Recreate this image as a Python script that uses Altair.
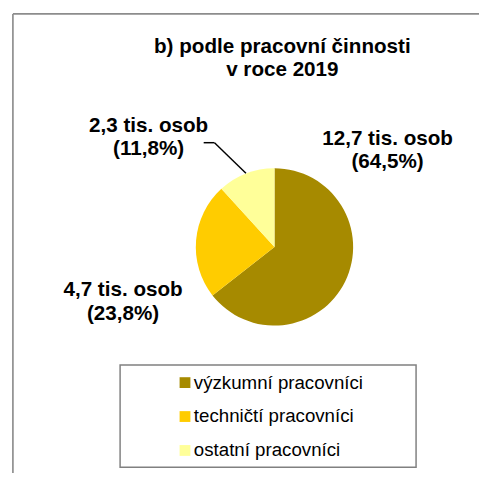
import altair as alt
import pandas as pd

categories = ["výzkumní pracovníci", "techničtí pracovníci", "ostatní pracovníci"]
persons_thousands = [12.7, 4.7, 2.3]
shares_pct = [64.5, 23.8, 11.8]
colors = ["#A68A00", "#FFCC00", "#FFFF99"]
title_lines = ["b) podle pracovní činnosti", "v roce 2019"]

FONT = "Liberation Sans, Arial, Helvetica, sans-serif"


def fmt(v):
    return f"{v:.1f}".replace(".", ",")


df = pd.DataFrame({
    "cat": categories,
    "val": persons_thousands,
    "pct": shares_pct,
    "idx": list(range(len(categories))),
})

one = pd.DataFrame({"a": [0]})
color_scale = alt.Scale(domain=categories, range=colors)

# frame lines (left and top)
frame_left = alt.Chart(one).mark_rule(color="#7f7f7f", strokeWidth=1.5).encode(
    x=alt.value(5), y=alt.value(2), y2=alt.value(469))
frame_top = alt.Chart(one).mark_rule(color="#8c8c8c", strokeWidth=2).encode(
    x=alt.value(5), x2=alt.value(479), y=alt.value(2))

title = alt.Chart(one).mark_text(
    font=FONT, fontSize=21, fontWeight="bold", align="center",
    baseline="alphabetic", lineHeight=23, color="#000000"
).encode(x=alt.value(279), y=alt.value(42), text=alt.value(title_lines))

pie = alt.Chart(df).mark_arc(radius=80).encode(
    theta=alt.Theta("pct:Q", stack=True),
    order=alt.Order("idx:Q"),
    color=alt.Color("cat:N", scale=color_scale, legend=None),
    x=alt.value(271),
    y=alt.value(239),
)

label_pos = [(386, 135), (117, 289), (143, 122)]
label_layers = []
for i in range(len(categories)):
    lines = [f"{fmt(persons_thousands[i])} tis. osob", f"({fmt(shares_pct[i])}%)"]
    x, y = label_pos[i]
    label_layers.append(
        alt.Chart(one).mark_text(
            font=FONT, fontSize=21, fontWeight="bold", align="center",
            baseline="alphabetic", lineHeight=24, color="#000000"
        ).encode(x=alt.value(x), y=alt.value(y), text=alt.value(lines))
    )

leader1 = alt.Chart(one).mark_rule(color="#000000", strokeWidth=1.5).encode(
    x=alt.value(199), x2=alt.value(210), y=alt.value(133), y2=alt.value(133))
leader2 = alt.Chart(one).mark_rule(color="#000000", strokeWidth=1.5).encode(
    x=alt.value(210), x2=alt.value(242), y=alt.value(133), y2=alt.value(164))

legend_box = alt.Chart(one).mark_rect(
    fill="#ffffff", stroke="#808080", strokeWidth=1.5
).encode(x=alt.value(114), x2=alt.value(415), y=alt.value(359), y2=alt.value(463))

ly = alt.Y("idx:Q", scale=alt.Scale(domain=[0, 2], range=[377, 446]), axis=None)
legend_sym = alt.Chart(df).mark_square(size=121, opacity=1).encode(
    x=alt.value(180), y=ly,
    color=alt.Color("cat:N", scale=color_scale, legend=None),
)
legend_txt = alt.Chart(df).mark_text(
    font=FONT, fontSize=19, align="left", baseline="middle", color="#000000"
).encode(x=alt.value(189), y=ly, text="cat:N")

chart = alt.layer(
    frame_left, frame_top, title, pie, *label_layers, leader1, leader2,
    legend_box, legend_sym, legend_txt
).properties(
    width=479, height=469,
    autosize=alt.AutoSizeParams(type="none"),
    padding=0,
).configure_view(stroke=None)

chart.save("out.html", embed_options={"renderer": "svg", "actions": False})
